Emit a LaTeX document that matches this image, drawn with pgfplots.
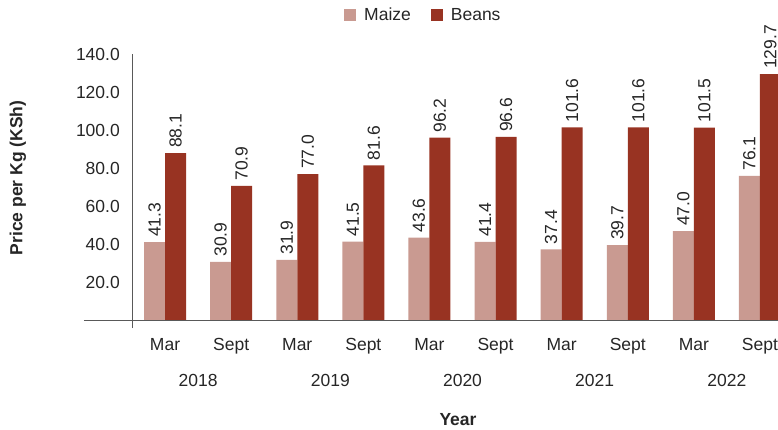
\documentclass[border=0pt]{standalone}
\usepackage{pgfplots}
\pgfplotsset{compat=1.18}
\usepackage{fontspec}
\setmainfont{Liberation Sans}
\definecolor{maize}{RGB}{201,154,145}
\definecolor{beans}{RGB}{152,51,34}
\definecolor{txt}{RGB}{38,38,38}
\definecolor{axgray}{RGB}{89,89,89}
\begin{document}
\begin{tikzpicture}[font=\fontsize{17.5bp}{21bp}\selectfont, text=txt]
\useasboundingbox (-132bp,-102bp) rectangle (646bp,328bp);
\begin{axis}[
  at={(0,0)}, anchor=south west,
  scale only axis, width=646bp, height=273.5bp,
  xmin=-0.5, xmax=9.273, ymin=-3.95, ymax=140,
  axis lines*=left,
  x axis line style={draw=none},
  y axis line style={draw=axgray, line width=0.8bp},
  major tick length=0pt,
  xtick={0,...,9},
  xticklabels={Mar,Sept,Mar,Sept,Mar,Sept,Mar,Sept,Mar,Sept},
  xticklabel style={anchor=base, yshift=-22.7bp, text=txt},
  ytick={20,40,...,140},
  yticklabel style={anchor=east, inner sep=0pt, xshift=-12bp, text=txt},
  /pgf/number format/.cd, fixed, fixed zerofill, precision=1, assume math mode=true, /pgfplots/.cd,
  ybar=0pt, bar width=21bp,
  clip=false,
  nodes near coords,
  every node near coord/.append style={rotate=90, anchor=west, inner xsep=5bp, inner ysep=0pt, text=txt, font=\fontsize{17.5bp}{21bp}\selectfont},
  legend columns=2,
  legend style={at={(0.451,1.144)}, anchor=center, draw=none, fill=none, font=\fontsize{17.5bp}{21bp}\selectfont, text=txt},
  legend image code/.code={\fill[#1] (0bp,-6bp) rectangle (12bp,6bp); \path (18bp,0bp);},
]
\addplot[fill=maize, draw=none] coordinates {(0,41.3) (1,30.9) (2,31.9) (3,41.5) (4,43.6) (5,41.4) (6,37.4) (7,39.7) (8,47.0) (9,76.1)};
\addlegendentry{Maize\rule{18bp}{0pt}}
\addplot[fill=beans, draw=none] coordinates {(0,88.1) (1,70.9) (2,77.0) (3,81.6) (4,96.2) (5,96.6) (6,101.6) (7,101.6) (8,101.5) (9,129.7)};
\addlegendentry{Beans}
\draw[axgray, line width=0.8bp] ([xshift=-48bp]axis cs:-0.5,0) -- (axis cs:9.273,0);
\node[yshift=-60bp] at (axis cs:0.5,0) {2018};
\node[yshift=-60bp] at (axis cs:2.5,0) {2019};
\node[yshift=-60bp] at (axis cs:4.5,0) {2020};
\node[yshift=-60bp] at (axis cs:6.5,0) {2021};
\node[yshift=-60bp] at (axis cs:8.5,0) {2022};
\end{axis}
\node[font=\bfseries\fontsize{17.5bp}{21bp}\selectfont] at (326bp,-92bp) {Year};
\node[rotate=90, font=\bfseries\fontsize{17.5bp}{21bp}\selectfont] at (-114bp,150bp) {Price per Kg (KSh)};
\end{tikzpicture}
\end{document}
